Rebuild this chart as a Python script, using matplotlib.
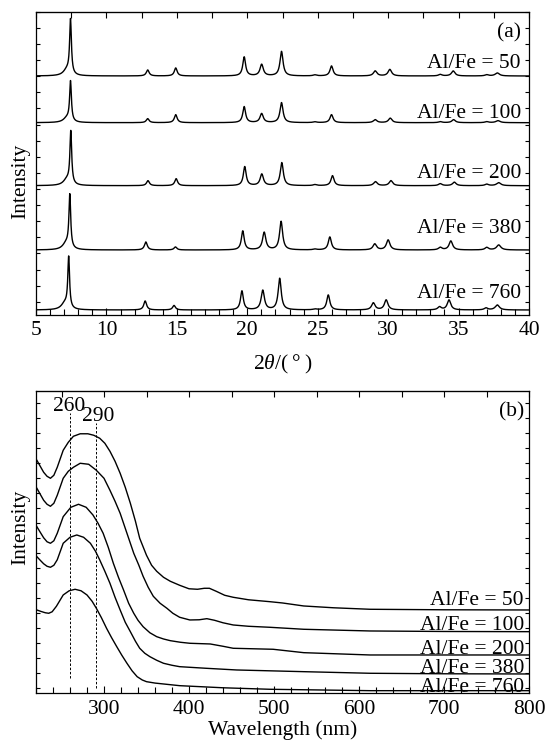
import matplotlib
matplotlib.use("Agg")
import matplotlib.pyplot as plt
import numpy as np
from matplotlib.ticker import MultipleLocator

plt.rcParams["font.family"] = ["Liberation Serif", "DejaVu Serif"]
plt.rcParams["mathtext.fontset"] = "custom"
plt.rcParams["mathtext.rm"] = "Liberation Serif"
plt.rcParams["mathtext.it"] = "Liberation Serif:italic"
plt.rcParams["font.size"] = 15.5

# ─── (a) XRD: peak list ─────────────────────────────────────────────────────
samples = ["Al/Fe = 50", "Al/Fe = 100", "Al/Fe = 200", "Al/Fe = 380", "Al/Fe = 760"]
xrd_base = [238.5, 191.8, 128.8, 64.5, 4.5]
# peak order: main foot, main, 12.9, 14.9, 19.8, 21.0, 22.4, 24.8, 26.0, 29.1, 30.1, 33.7, 34.6, 37.0, 37.8
xrd_width = [0.3, 0.075, 0.12, 0.12, 0.12, 0.14, 0.13, 0.15, 0.13, 0.15, 0.15, 0.15, 0.15, 0.15, 0.18]
xrd_pos_50 = [7.2, 7.45, 12.93, 14.92, 19.78, 21.02, 22.43, 24.8, 25.98, 29.08, 30.12, 33.7, 34.62, 37.0, 37.75]
xrd_h_50 = [6, 54, 6, 8, 19, 11.5, 24.5, 1, 10, 5, 6.5, 1.5, 5, 1.2, 3]
xrd_pos_100 = [7.2, 7.45, 12.93, 14.92, 19.78, 21.02, 22.43, 24.8, 25.98, 29.08, 30.15, 33.7, 34.65, 37.0, 37.8]
xrd_h_100 = [4.5, 39.5, 4, 8, 16, 9, 20, 0.8, 8, 3, 4.5, 1, 3, 1, 2]
xrd_pos_200 = [7.2, 7.47, 12.95, 14.95, 19.82, 21.03, 22.45, 24.8, 26.05, 29.1, 30.2, 33.7, 34.7, 37.0, 37.85]
xrd_h_200 = [6, 52, 5, 7, 19, 11.5, 23, 1, 10, 4, 5, 2, 3.5, 1.5, 3]
xrd_pos_380 = [7.15, 7.4, 12.8, 14.9, 19.68, 21.2, 22.4, 24.8, 25.86, 29.05, 30.0, 33.7, 34.45, 37.0, 37.85]
xrd_h_380 = [6.5, 52.5, 8, 3, 19, 17.5, 28.5, 0.8, 13, 6, 10, 2.5, 9, 2.5, 5]
xrd_pos_760 = [7.05, 7.32, 12.75, 14.8, 19.62, 21.1, 22.3, 24.8, 25.75, 28.95, 29.86, 33.65, 34.32, 36.95, 37.75]
xrd_h_760 = [6.5, 50.5, 9, 4.5, 19, 19.5, 31.5, 0.8, 15, 7, 10, 3, 10, 2, 5]
xrd_pos = [xrd_pos_50, xrd_pos_100, xrd_pos_200, xrd_pos_380, xrd_pos_760]
xrd_h = [xrd_h_50, xrd_h_100, xrd_h_200, xrd_h_380, xrd_h_760]
xrd_label_y = [246.2, 196.2, 136.2, 81.2, 16.8]

# ─── (b) UV-vis curves ──────────────────────────────────────────────────────
uv_nm_50 = [221, 225, 229, 233, 237, 241, 245, 252, 258, 264, 272, 281, 288, 295, 301, 307, 313,
            319, 325, 331, 337, 342, 350, 356, 362, 370, 378, 389, 400, 410, 418, 424, 432,
            442, 452, 470, 495, 510, 535, 570, 613, 700, 800]
uv_50 = [233, 227, 221, 217, 215, 218, 226, 243, 251, 257, 259.5, 259.5, 258, 255, 250, 242, 232,
         220, 206, 190, 172, 155, 138, 128, 122, 116, 112, 108, 104.5, 104, 105, 105, 102,
         98, 96, 93.5, 91.6, 90.3, 87.3, 85.5, 84, 83.5, 83.3]
uv_nm_100 = [221, 225, 229, 233, 237, 241, 245, 252, 258, 264, 272, 282, 291, 300, 307, 313,
             319, 325, 331, 335, 341, 346, 352, 358, 366, 374, 381, 389, 401, 412, 421, 430,
             440, 452, 470, 495, 535, 613, 700, 800]
uv_100 = [205, 199, 193, 189, 187, 190, 198, 215, 222, 226, 230, 229, 223, 215, 203, 192,
          180, 165, 150, 140, 128, 117, 106, 97, 90, 85, 80, 76, 73.3, 73.5, 74.6, 73,
          70.5, 68.3, 67, 66, 64, 62.3, 61.8, 61.6]
uv_nm_200 = [221, 225, 229, 233, 237, 241, 245, 252, 261, 270, 279, 287, 293, 299, 305, 311,
             317, 323, 329, 335, 340, 346, 354, 362, 370, 378, 390, 401, 425, 440, 452, 499,
             535, 613, 700, 800]
uv_200 = [166.6, 161, 155.5, 151.5, 150, 152.5, 160, 176.6, 186, 189, 186, 178.3, 170, 160, 146, 130,
          116, 103.3, 90, 80, 73, 66.6, 60.5, 56.6, 54.3, 52.6, 51, 50, 49.3, 47, 45, 44,
          40.6, 38.3, 38.3, 38.3]
uv_nm_380 = [221, 225, 229, 233, 237, 241, 245, 252, 260, 268, 276, 284, 290, 295, 301, 307,
             313, 319, 325, 331, 337, 342, 348, 354, 362, 370, 380, 389, 420, 456, 535, 613,
             700, 800]
uv_380 = [136.6, 133, 129.5, 127, 126, 128, 133.5, 150, 156, 158.3, 156, 150, 142, 133.3, 122, 110,
          96, 83.3, 71, 61.6, 52, 45, 40, 36.6, 33, 30, 28, 26.6, 25, 23.3, 21.6, 20,
          19.5, 19.3]
uv_nm_760 = [221, 226, 231, 235, 239, 244, 252, 259, 266, 273, 280, 286, 291, 297, 303, 309,
             315, 321, 327, 333, 339, 345, 350, 360, 370, 389, 440, 495, 613, 700, 800]
uv_760 = [83.3, 81.8, 80.5, 80, 81.5, 87, 98.3, 102.5, 104, 102.5, 98.3, 92, 85, 75.5, 65, 55.5,
          46.6, 38, 30, 22.5, 16.6, 13.3, 11.6, 10.2, 9.3, 7.6, 5.5, 4, 2.6, 2.6, 2.6]
uv_nm = [uv_nm_50, uv_nm_100, uv_nm_200, uv_nm_380, uv_nm_760]
uv_y = [uv_50, uv_100, uv_200, uv_380, uv_760]
uv_label_y = [88.3, 63.3, 39.3, 20.0, 1.6]
peak_marks = [260, 290]


def xrd_trace(x, pos, height, width, base):
    y = np.full_like(x, base)
    for p, h, w in zip(pos, height, width):
        y += h * w ** 2 / ((x - p) ** 2 + w ** 2)
    return y


def style_box(ax, top_step, ytick_start, ytick_step, ymax):
    ax.tick_params(which="both", direction="in", top=False, right=True, left=True,
                   labelleft=False, pad=5)
    ax.tick_params(which="major", length=5, width=0.8)
    ax.tick_params(which="minor", length=4, width=0.8)
    ax.tick_params(axis="y", which="major", length=3)
    ax.set_yticks(np.arange(ytick_start, ymax, ytick_step))
    for s in ax.spines.values():
        s.set_linewidth(0.9)
    sec = ax.secondary_xaxis("top")
    lo, hi = ax.get_xlim()
    first = np.ceil(lo / top_step) * top_step
    sec.set_xticks(np.arange(first, hi + 1e-6, top_step))
    sec.tick_params(direction="in", length=4, width=0.8, labeltop=False)


fig = plt.figure(figsize=(5.45, 7.49), dpi=100)
ax_a = fig.add_axes([36 / 545, 0.5801, 493 / 545, 0.4043])
ax_b = fig.add_axes([36 / 545, 0.0744, 493 / 545, 0.4036])

# ── panel (a) ──
x = np.linspace(5, 40, 3501)
for pos, h, base, lab, ly in zip(xrd_pos, xrd_h, xrd_base, samples, xrd_label_y):
    ax_a.plot(x, xrd_trace(x, pos, h, xrd_width, base), color="black", lw=1.0)
    ax_a.text(39.43, ly, lab, ha="right", va="baseline")
ax_a.set_xlim(5, 40)
ax_a.set_ylim(0, 302.8)
ax_a.xaxis.set_major_locator(MultipleLocator(5))
ax_a.xaxis.set_minor_locator(MultipleLocator(1))
style_box(ax_a, 2.5, 12.8, 16.1, 302.8)
ax_a.text(39.43, 281.5, "(a)", ha="right", va="center")
ax_a.set_xlabel("2$\\it{\\theta}$/(\u2009°\u2009)", labelpad=9)
ax_a.set_ylabel("Intensity", va="center")
ax_a.yaxis.set_label_coords(-0.032, 0.4386)

# ── panel (b) ──
for nm, yv, lab, ly in zip(uv_nm, uv_y, samples, uv_label_y):
    ax_b.plot(nm, yv, color="black", lw=1.0)
    ax_b.text(794, ly, lab, ha="right", va="baseline")
ax_b.plot([peak_marks[0]] * 2, [15, 280], color="black", lw=0.7, ls=(0, (2.5, 1.8)))
ax_b.plot([peak_marks[1]] * 2, [5.3, 270], color="black", lw=0.7, ls=(0, (2.5, 1.8)))
ax_b.text(peak_marks[0] - 1.5, 282, str(peak_marks[0]), ha="center", va="baseline")
ax_b.text(peak_marks[1] + 3, 272, str(peak_marks[1]), ha="center", va="baseline")
ax_b.set_xlim(220, 800)
ax_b.set_ylim(0, 302.3)
ax_b.xaxis.set_major_locator(MultipleLocator(100))
ax_b.xaxis.set_minor_locator(MultipleLocator(20))
style_box(ax_b, 50, 5, 15, 302.3)
ax_b.text(794, 281.6, "(b)", ha="right", va="center")
ax_b.set_xlabel("Wavelength (nm)", labelpad=1)
ax_b.set_ylabel("Intensity", va="center")
ax_b.yaxis.set_label_coords(-0.032, 0.548)

fig.savefig("out.png", dpi=100)
